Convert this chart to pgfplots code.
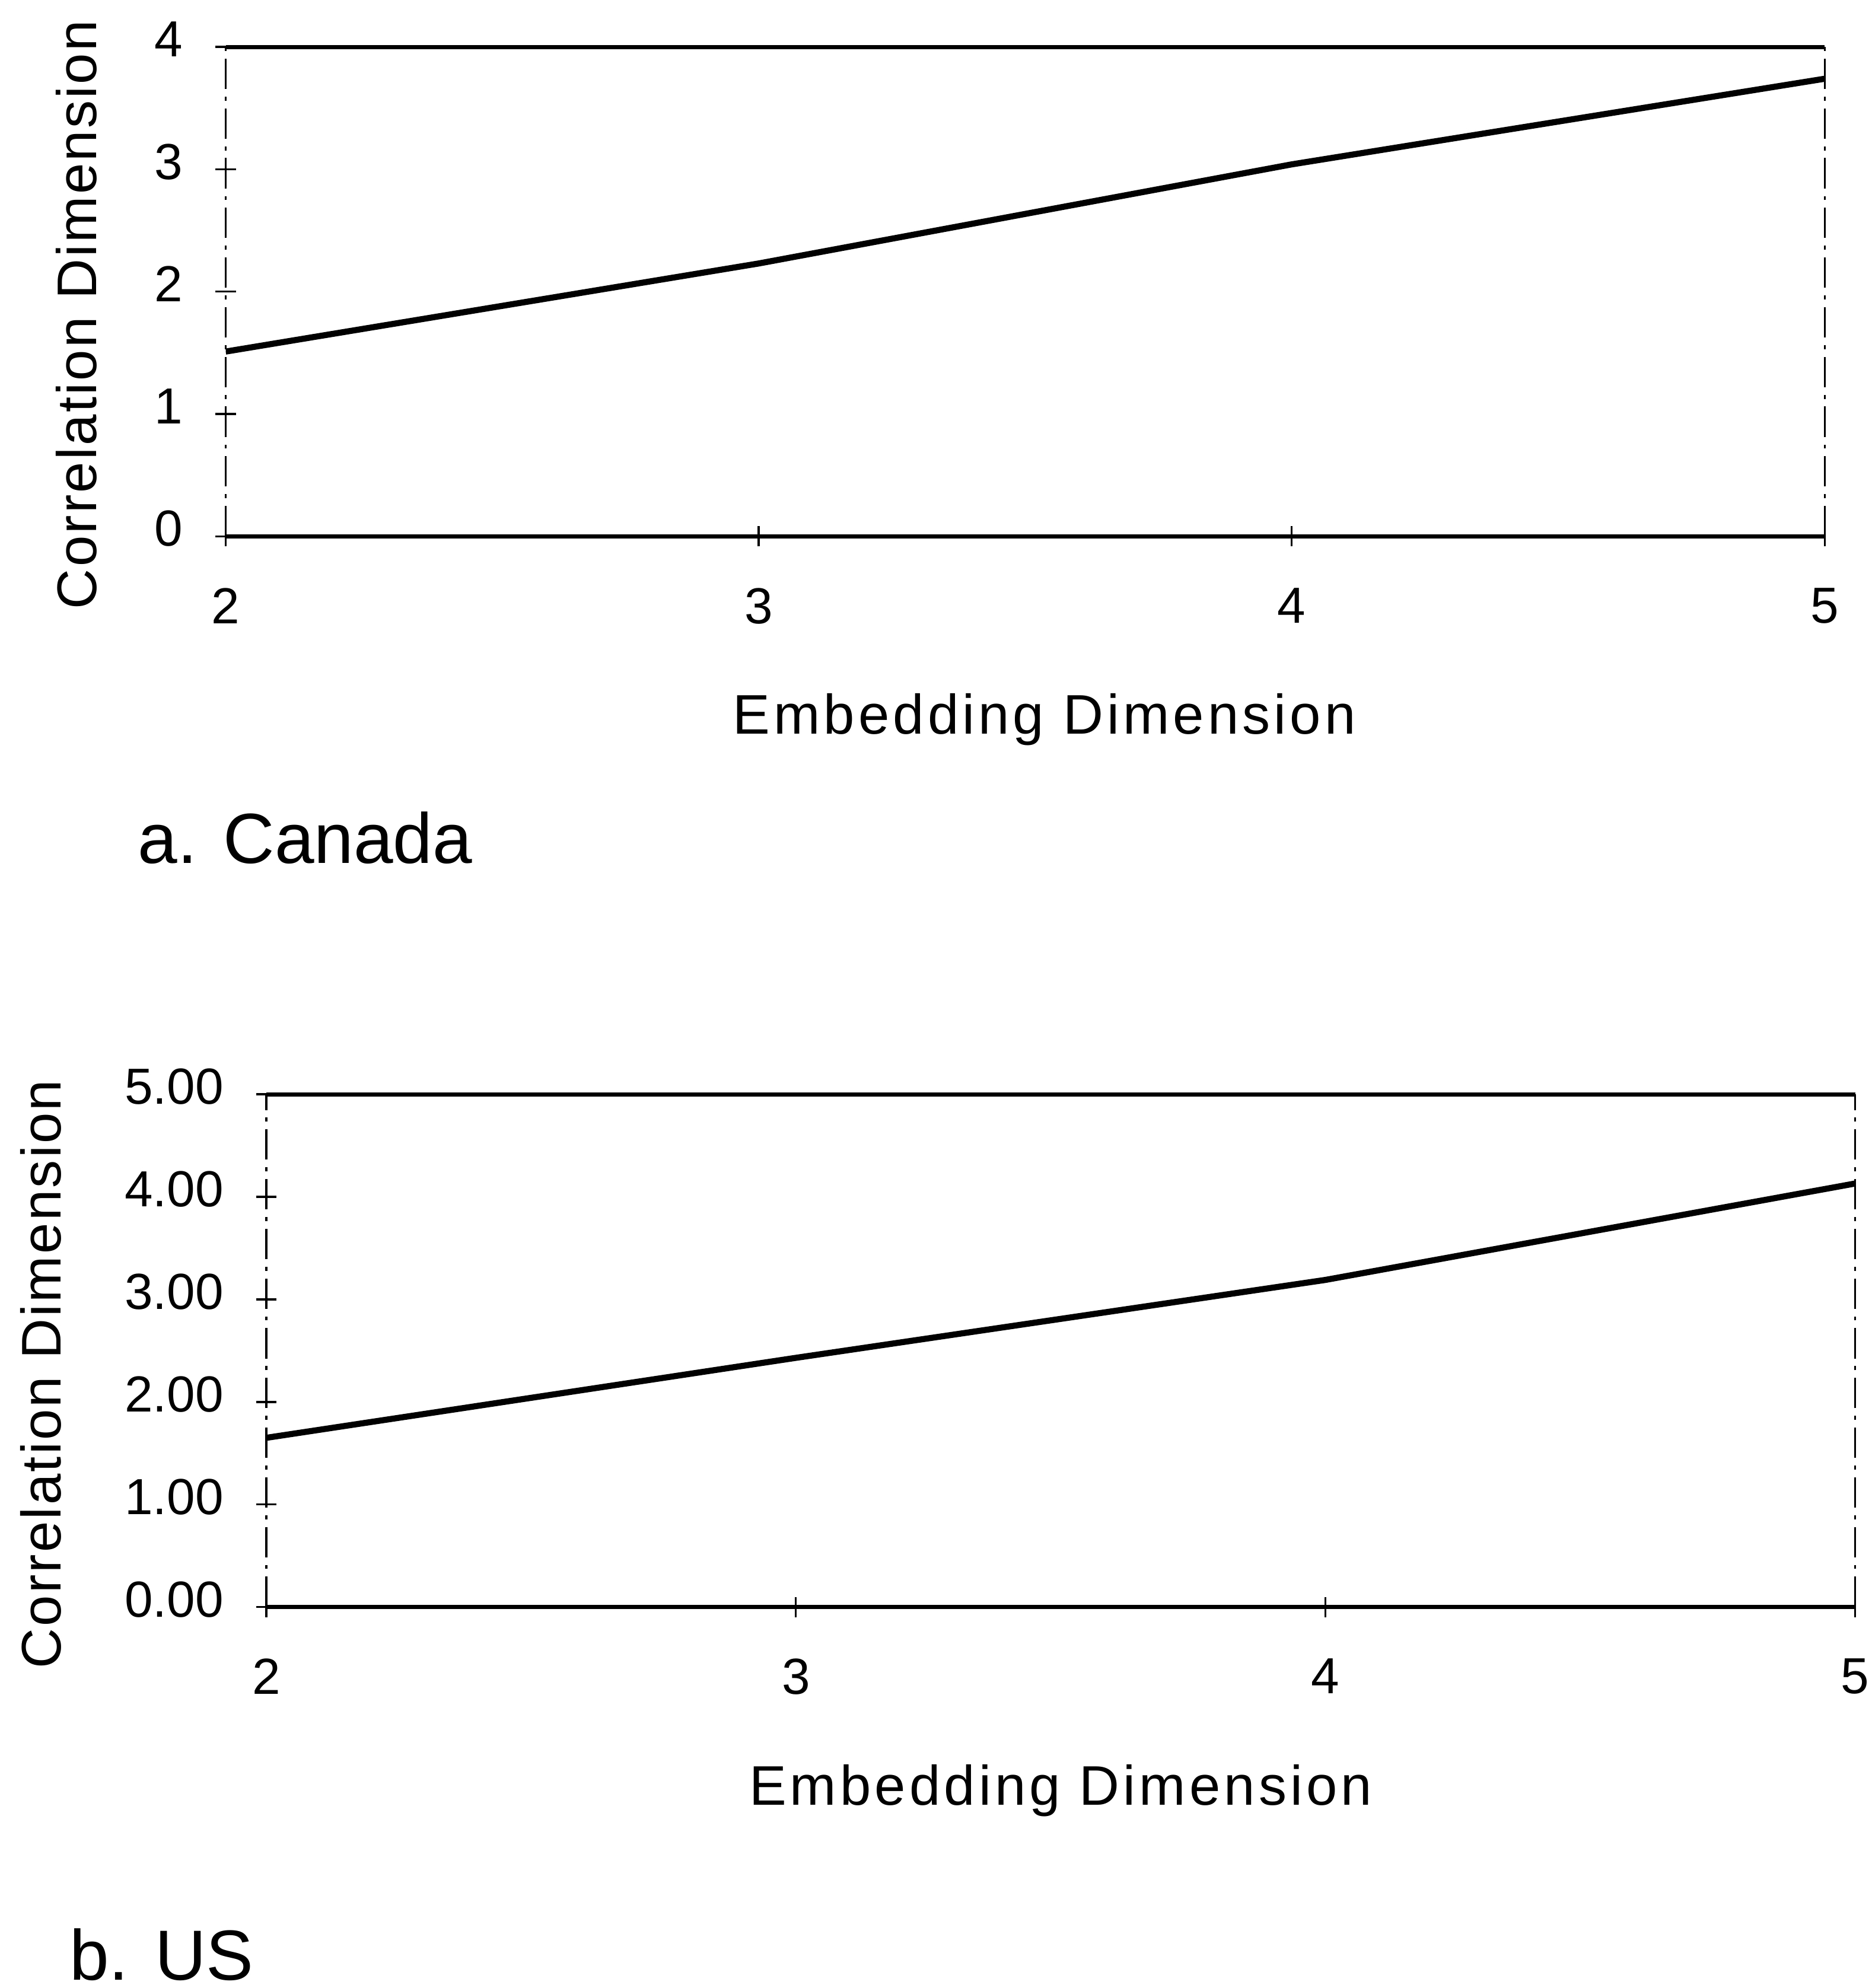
\documentclass[border=0pt]{standalone}
\usepackage{pgfplots}
\pgfplotsset{compat=1.18}
\usepackage{fontspec}
\setmainfont{Liberation Sans}
\newfontfamily\ylabelfont[LetterSpace=3.5]{Liberation Sans}
\newfontfamily\xlabelfont[LetterSpace=6.5]{Liberation Sans}

\pgfplotstableread{
x y
2 1.51
3 2.23
4 3.04
5 3.74
}\canada
\pgfplotstableread{
x y
2 1.65
3 2.43
4 3.19
5 4.13
}\us

\pgfplotsset{
  common/.style={
    scale only axis,
    anchor=south west,
    xmin=2, xmax=5, xtick={2,3,4,5},
    /pgf/number format/assume math mode=true,
    tick label style={font=\fontsize{10}{12}\selectfont, inner sep=0pt},
    xticklabel style={anchor=north, yshift=-8pt},
    yticklabel style={anchor=east, xshift=-6.25pt, yshift=1.5pt},
    separate axis lines,
    x axis line style={line width=0.8pt},
    y axis line style={line width=0.4pt, dash pattern=on 6pt off 1.5pt on 0.8pt off 1.5pt},
    ytick pos=left, xtick pos=bottom,
    tick align=center,
    major tick length=4pt,
    every tick/.style={black, line width=0.4pt},
    xlabel style={font=\xlabelfont\fontsize{11}{13}\selectfont, inner sep=0pt},
    ylabel style={font=\ylabelfont\fontsize{11}{13}\selectfont, inner sep=0pt},
    xlabel={Embedding Dimension},
    ylabel={Correlation Dimension},
  }
}

\begin{document}
\begin{tikzpicture}
\useasboundingbox (0,0) rectangle (369pt,392pt);

\begin{axis}[common,
  at={(44.5pt,286.25pt)}, width=315.25pt, height=96.5pt,
  ymin=0, ymax=4, ytick={0,1,2,3,4},
  xlabel style={at={(axis description cs:0.512,0)}, anchor=base, yshift=-39pt},
  ylabel style={at={(axis description cs:-0.0809,0.453)}, anchor=base, rotate=0},
]
\addplot[black, line width=1.2pt, line join=round] table[x=x,y=y] {\canada};
\end{axis}

\begin{axis}[common,
  at={(52.5pt,75.125pt)}, width=313.25pt, height=101.1pt,
  ymin=0, ymax=5, ytick={0,1,2,3,4,5},
  yticklabel style={/pgf/number format/.cd, fixed, fixed zerofill, precision=2},
  xlabel style={at={(axis description cs:0.5,0)}, anchor=base, yshift=-39pt},
  ylabel style={at={(axis description cs:-0.1293,0.454)}, anchor=base, rotate=0},
]
\addplot[black, line width=1.2pt, line join=round] table[x=x,y=y] {\us};
\end{axis}

\node[anchor=base west, inner sep=0pt, font=\fontsize{14}{16}\selectfont] at (27pt,221.75pt) {a. Canada};
\node[anchor=base west, inner sep=0pt, font=\fontsize{14}{16}\selectfont] at (13.5pt,1.6pt) {b. US};
\end{tikzpicture}
\end{document}
